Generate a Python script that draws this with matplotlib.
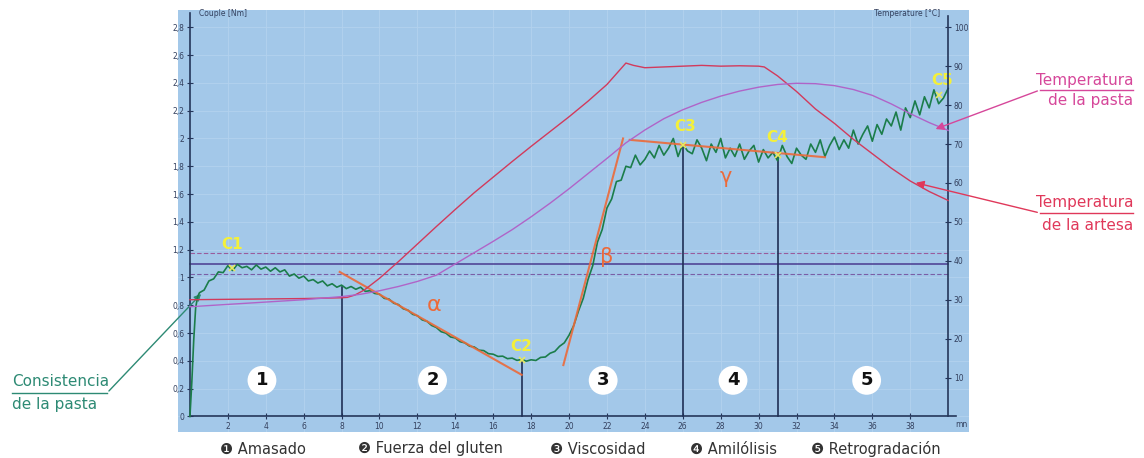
import numpy as np
import matplotlib
matplotlib.use("Agg")
import matplotlib.pyplot as plt

# ---------------- data ----------------
# torque (Nm) of the dough, sampled every 0.25 min after a fast start
t_start = [0.0, 0.1, 0.2, 0.3, 0.4]
couple_start = [0.0, 0.25, 0.55, 0.78, 0.86]
couple = [
    0.89, 0.91, 0.975, 0.99, 1.04, 1.035, 1.085, 1.05,
    1.095, 1.07, 1.08, 1.055, 1.09, 1.06, 1.075, 1.045,
    1.07, 1.04, 1.055, 1.01, 1.025, 0.995, 1.01, 0.975,
    0.985, 0.96, 0.975, 0.94, 0.955, 0.93, 0.945, 0.92,
    0.935, 0.915, 0.93, 0.9, 0.905, 0.885, 0.88, 0.85,
    0.845, 0.815, 0.805, 0.775, 0.765, 0.735, 0.725, 0.695,
    0.685, 0.655, 0.64, 0.61, 0.6, 0.572, 0.565, 0.538,
    0.53, 0.506, 0.5, 0.477, 0.474, 0.452, 0.448, 0.432,
    0.434, 0.416, 0.42, 0.404, 0.41, 0.398, 0.408, 0.403,
    0.425, 0.428, 0.455, 0.468, 0.505, 0.53, 0.585, 0.655,
    0.76, 0.85, 0.985, 1.085, 1.255, 1.345, 1.5, 1.565,
    1.69, 1.70, 1.80, 1.79, 1.88, 1.81, 1.85, 1.91,
    1.86, 1.95, 1.88, 1.93, 2.0, 1.87, 1.96, 1.91,
    1.89, 1.99, 1.93, 1.84, 1.96, 1.9, 2.0, 1.86,
    1.93, 1.87, 1.96, 1.85, 1.91, 1.95, 1.83, 1.92,
    1.86, 1.9, 1.84, 1.95, 1.87, 1.82, 1.93, 1.88,
    1.85, 1.96, 1.9, 1.99, 1.87, 1.95, 2.01, 1.92,
    1.99, 1.93, 2.06, 1.96, 2.03, 2.09, 1.98, 2.1,
    2.03, 2.14, 2.09, 2.19, 2.06, 2.22, 2.15, 2.27,
    2.17, 2.3, 2.22, 2.35, 2.25, 2.29, 2.36,
]
t_couple = t_start + list(np.arange(0.5, 40.01, 0.25))
couple = couple_start + couple

# bowl (artesa) temperature, °C
t_artesa = [0, 2, 4, 6, 8, 8.3, 8.7, 9.2, 10, 11, 12, 13, 14, 15, 16, 17, 18,
            19, 20, 21, 22, 22.6, 23.0, 23.4, 24, 25, 26, 27, 28, 29, 30, 30.3,
            31, 32, 33, 34, 35, 36, 37, 38, 39, 40]
temp_artesa = [30.0, 30.1, 30.2, 30.3, 30.5, 30.6, 31.2, 32.5, 35.5, 39.8, 44.3,
               48.8, 53.2, 57.5, 61.5, 65.5, 69.4, 73.2, 77.0, 81.0, 85.3, 88.6,
               90.8, 90.2, 89.6, 89.8, 90.0, 90.2, 90.0, 90.1, 90.0, 89.8, 87.5,
               83.5, 79.0, 75.3, 71.2, 67.5, 63.8, 60.5, 57.8, 55.5]

# dough (pasta) temperature, °C
t_pasta = list(range(0, 41))
temp_pasta = [28.2, 28.5, 28.8, 29.1, 29.4, 29.7, 30.0, 30.4, 30.8, 31.4, 32.3,
              33.4, 34.7, 36.3, 39.2, 42.1, 45.0, 48.0, 51.3, 54.8, 58.5, 62.4,
              66.3, 70.3, 73.6, 76.5, 78.8, 80.7, 82.3, 83.6, 84.6, 85.3, 85.6,
              85.5, 85.0, 84.0, 82.5, 80.3, 77.8, 75.5, 73.5]

# characteristic points
c_labels = ["C1", "C2", "C3", "C4", "C5"]
c_t = [2.2, 17.5, 26.0, 31.0, 39.5]
c_val = [1.07, 0.405, 1.955, 1.88, 2.31]

# slopes alpha, beta, gamma
alpha_t = [7.9, 17.5]
alpha_v = [1.04, 0.30]
beta_t = [19.7, 22.85]
beta_v = [0.37, 2.0]
gamma_t = [23.2, 33.5]
gamma_v = [1.99, 1.865]

# reference band
ref_level = 1.1
ref_band = [1.025, 1.175]

phase_x = [3.8, 12.8, 21.8, 28.65, 35.7]
phase_names = ["Amasado", "Fuerza del gluten", "Viscosidad", "Amilólisis", "Retrogradación"]
phase_marks = ["\u2776", "\u2777", "\u2778", "\u2779", "\u277a"]

T_SCALE = 100 / 2.8  # °C per Nm on the shared grid

# ---------------- figure ----------------
W, H = 1144, 458
fig = plt.figure(figsize=(W / 100, H / 100), dpi=100)
ax = fig.add_axes([178 / W, 1 - 432 / H, 791 / W, 422 / H])
ax.set_facecolor("#a3c8e9")
ax.set_xlim(-0.63, 41.1)
ax.set_ylim(-0.1115, 2.924)
ax2 = ax.twinx()
ax2.set_ylim(-0.1115 * T_SCALE, 2.924 * T_SCALE)

axis_col = "#24365a"
lab_col = "#33405e"
for s in ["top", "right"]:
    ax.spines[s].set_visible(False)
for s in ["top", "left", "bottom"]:
    ax2.spines[s].set_visible(False)
ax.spines["left"].set_position(("data", 0))
ax.spines["left"].set_bounds(0, 2.9)
ax.spines["bottom"].set_position(("data", 0))
ax.spines["bottom"].set_bounds(0, 40.4)
ax2.spines["right"].set_position(("data", 40))
ax2.spines["right"].set_bounds(0, 103)
for sp in [ax.spines["left"], ax.spines["bottom"], ax2.spines["right"]]:
    sp.set_color(axis_col)
    sp.set_linewidth(1.2)

yt = np.arange(0, 2.81, 0.2)
ax.set_yticks(yt)
ax.set_yticklabels([("%g" % round(v, 1)).replace(".", ",") for v in yt])
ax.set_xticks(np.arange(2, 39, 2))
ax.tick_params(axis="both", direction="inout", length=4, width=0.8, color=axis_col,
               labelsize=5.5, labelcolor=lab_col, pad=2)
ax2.set_yticks(np.arange(10, 101, 10))
ax2.tick_params(axis="y", direction="inout", length=4, width=0.8, color=axis_col,
                labelsize=5.5, labelcolor=lab_col, pad=2)
ax.grid(True, color="#b3d2ee", linewidth=0.6)
ax.set_axisbelow(True)

ax.text(40.4, -0.055, "mn", fontsize=5.5, color=lab_col, ha="left", va="center")
ax.text(0.5, 2.9, "Couple [Nm]", fontsize=5.5, color=lab_col, ha="left", va="center")
ax.text(39.6, 2.9, "Temperature [°C]", fontsize=5.5, color=lab_col, ha="right", va="center")

# reference band lines
ax.plot([0, 40], [ref_level, ref_level], color="#4a3a90", lw=1.1, zorder=2)
ax.plot([0, 40], [ref_band[1], ref_band[1]], color="#9a5c9c", lw=0.8, ls=(0, (4, 2)), zorder=2)
ax.plot([0, 40], [ref_band[0], ref_band[0]], color="#7a5ea6", lw=0.8, ls=(0, (4, 2)), zorder=2)

# phase separators
sep_t = [8.0, c_t[1], c_t[2], c_t[3]]
sep_v = [0.935, c_val[1], c_val[2], c_val[3]]
for xt, yv in zip(sep_t, sep_v):
    ax.plot([xt, xt], [0, yv], color="#1e2f55", lw=1.2, zorder=3)

# temperatures
ax2.plot(t_artesa, temp_artesa, color="#d23a5c", lw=1.0, zorder=3)
ax2.plot(t_pasta, temp_pasta, color="#b064c8", lw=1.0, zorder=3)

# torque
ax.plot(t_couple, couple, color="#1b7d4a", lw=1.2, zorder=4)

# slopes
for tt, vv in [(alpha_t, alpha_v), (beta_t, beta_v), (gamma_t, gamma_v)]:
    ax.plot(tt, vv, color="#ec6a3a", lw=1.5, alpha=0.9, zorder=5)
ax.text(12.9, 0.8, "α", color="#ec6a3a", fontsize=16, ha="center", va="center", zorder=6)
ax.text(22.0, 1.15, "β", color="#ec6a3a", fontsize=15, ha="center", va="center", zorder=6)
ax.text(28.3, 1.72, "γ", color="#ec6a3a", fontsize=15, ha="center", va="center", zorder=6)

# characteristic points
ax.plot(c_t, c_val, ls="none", marker="x", ms=5, mew=1.2, color="#e8e860", zorder=7)
c_off = [0.17, 0.1, 0.13, 0.13, 0.11]
c_dx = [0.0, 0.0, 0.1, 0.0, 0.2]
for lab, xt, yv, dy, dx in zip(c_labels, c_t, c_val, c_off, c_dx):
    ax.text(xt + dx, yv + dy, lab, color="#f4f03a", fontsize=11, fontweight="bold",
            ha="center", va="center", zorder=8)

# phase numbers
for i, xt in enumerate(phase_x):
    ax.text(xt, 0.26, str(i + 1), fontsize=13, fontweight="bold", color="#111111",
            ha="center", va="center", zorder=8,
            bbox=dict(boxstyle="circle,pad=0.3", fc="white", ec="none"))

# ---------------- callouts ----------------
over = fig.add_axes([0, 0, 1, 1], facecolor="none")
over.set_xlim(0, W)
over.set_ylim(H, 0)
over.axis("off")
narrow = ["Liberation Sans Narrow", "DejaVu Sans"]

teal = "#2d8a74"
over.text(12, 382, "Consistencia", color=teal, fontsize=11, family=narrow, ha="left", va="center")
over.text(12, 404, "de la pasta", color=teal, fontsize=11, family=narrow, ha="left", va="center")
over.plot([12, 107], [393, 393], color=teal, lw=1)
ax.annotate("", xy=(0.69, 0.896), xycoords="data", xytext=(107, H - 393),
            textcoords="figure pixels",
            arrowprops=dict(arrowstyle="-|>", color=teal, lw=1, mutation_scale=10))

pink = "#d6479a"
over.text(1133, 80, "Temperatura", color=pink, fontsize=11, family=narrow, ha="right", va="center")
over.text(1133, 101, "de la pasta", color=pink, fontsize=11, family=narrow, ha="right", va="center")
over.plot([1040, 1133], [90, 90], color=pink, lw=1)
ax2.annotate("", xy=(39.2, 73.6), xycoords="data", xytext=(1040, H - 90),
             textcoords="figure pixels",
             arrowprops=dict(arrowstyle="-|>", color=pink, lw=1, mutation_scale=12))

red = "#e0385a"
over.text(1133, 203, "Temperatura", color=red, fontsize=11, family=narrow, ha="right", va="center")
over.text(1133, 225, "de la artesa", color=red, fontsize=11, family=narrow, ha="right", va="center")
over.plot([1040, 1133], [213, 213], color=red, lw=1)
ax2.annotate("", xy=(38.15, 60.2), xycoords="data", xytext=(1040, H - 213),
             textcoords="figure pixels",
             arrowprops=dict(arrowstyle="-|>", color=red, lw=1, mutation_scale=12))

# phase legend under the chart
leg_x = [220, 358, 550, 690, 811]
for xp, mk, name in zip(leg_x, phase_marks, phase_names):
    over.text(xp, 449, mk + " " + name, color="#333333", fontsize=10.5, family=narrow,
              ha="left", va="center")

fig.savefig("out.png", dpi=100)
